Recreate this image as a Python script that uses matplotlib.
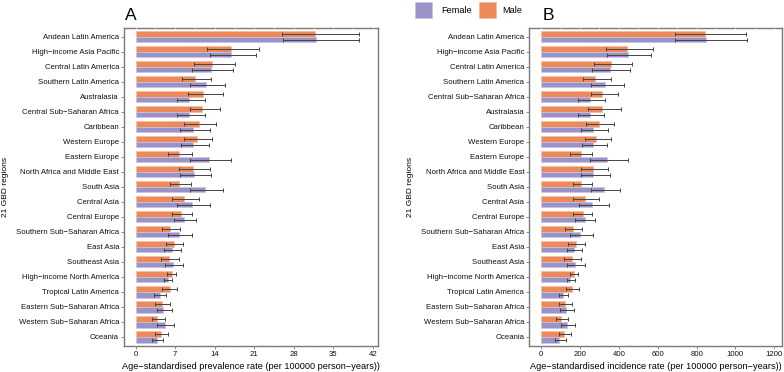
import matplotlib
matplotlib.use('Agg')
import matplotlib.pyplot as plt
from matplotlib.patches import Rectangle
import numpy as np

plt.rcParams['font.family'] = ['Liberation Sans', 'DejaVu Sans']

# panel A: prevalence
regions_a = ['Andean Latin America', 'High\u2212income Asia Pacific', 'Central Latin America',
             'Southern Latin America', 'Australasia', 'Central Sub\u2212Saharan Africa',
             'Caribbean', 'Western Europe', 'Eastern Europe', 'North Africa and Middle East',
             'South Asia', 'Central Asia', 'Central Europe', 'Southern Sub\u2212Saharan Africa',
             'East Asia', 'Southeast Asia', 'High\u2212income North America',
             'Tropical Latin America', 'Eastern Sub\u2212Saharan Africa',
             'Western Sub\u2212Saharan Africa', 'Oceania']
male_a = [31.8, 16.8, 13.6, 10.5, 11.9, 11.8, 11.2, 10.8, 7.7, 10.2, 7.7,
          8.5, 8.0, 6.1, 6.7, 5.9, 6.4, 6.0, 4.6, 3.8, 4.5]
male_a_lo = [26.0, 12.6, 10.3, 8.2, 9.2, 9.6, 8.6, 8.5, 5.7, 7.7, 6.1,
             6.4, 6.4, 4.6, 5.3, 4.5, 5.6, 4.7, 3.5, 2.9, 3.5]
male_a_hi = [39.5, 21.9, 17.5, 13.4, 15.5, 14.9, 14.2, 13.5, 10.0, 13.1, 9.8,
             11.2, 10.0, 7.9, 8.4, 7.7, 7.1, 7.3, 6.0, 5.2, 5.7]
female_a = [31.9, 16.8, 13.3, 12.5, 9.5, 9.5, 10.1, 10.2, 12.9, 10.3, 12.2,
            9.9, 8.5, 7.6, 6.4, 6.6, 5.7, 4.3, 4.8, 5.1, 3.7]
female_a_lo = [26.1, 13.1, 9.9, 9.7, 7.4, 7.3, 7.8, 8.1, 9.7, 7.9, 9.6,
               7.4, 6.7, 5.7, 5.0, 5.1, 5.0, 3.2, 3.7, 3.8, 2.8]
female_a_hi = [39.6, 21.3, 17.2, 15.9, 12.2, 12.3, 13.1, 12.9, 16.8, 13.3, 15.4,
               13.1, 10.6, 10.0, 8.0, 8.4, 6.4, 5.3, 6.4, 6.7, 4.8]

# panel B: incidence
regions_b = ['Andean Latin America', 'High\u2212income Asia Pacific', 'Central Latin America',
             'Southern Latin America', 'Central Sub\u2212Saharan Africa', 'Australasia',
             'Caribbean', 'Western Europe', 'Eastern Europe', 'North Africa and Middle East',
             'South Asia', 'Central Asia', 'Central Europe', 'Southern Sub\u2212Saharan Africa',
             'East Asia', 'Southeast Asia', 'High\u2212income North America',
             'Tropical Latin America', 'Eastern Sub\u2212Saharan Africa',
             'Western Sub\u2212Saharan Africa', 'Oceania']
male_b = [843, 443, 361, 278, 314, 313, 296, 283, 204, 269, 207,
          225, 214, 164, 179, 156, 169, 160, 124, 102, 117]
male_b_lo = [690, 331, 273, 213, 254, 239, 230, 224, 149, 206, 162,
             165, 165, 120, 139, 119, 147, 125, 94, 74, 92]
male_b_hi = [1055, 577, 465, 358, 396, 410, 376, 361, 264, 346, 264,
             296, 264, 211, 225, 204, 189, 196, 160, 136, 151]
female_b = [846, 445, 352, 328, 251, 251, 266, 268, 340, 269, 324,
            261, 225, 199, 170, 174, 149, 112, 129, 134, 91]
female_b_lo = [690, 341, 259, 254, 191, 191, 206, 209, 252, 206, 257,
               194, 175, 146, 134, 134, 132, 89, 97, 100, 72]
female_b_hi = [1058, 563, 455, 424, 326, 323, 346, 341, 445, 352, 408,
               348, 279, 266, 211, 224, 172, 137, 170, 175, 127]

c_female = '#9a93c8'
c_male = '#ee8a5a'
e_female = '#c9c5e4'
e_male = '#f5bfa3'


def panel(ax, regions, m, mlo, mhi, f, flo, fhi, xlim, ticks, xlabel, letter, letter_x):
    n = len(regions)
    y = np.arange(n, 0, -1)
    h = 0.37
    ax.barh(y + h / 2, m, height=h, color=c_male, edgecolor=e_male, lw=0.5, zorder=3)
    ax.barh(y - h / 2, f, height=h, color=c_female, edgecolor=e_female, lw=0.5, zorder=3)
    m, f = np.array(m), np.array(f)
    ax.errorbar(m, y + h / 2, xerr=[m - np.array(mlo), np.array(mhi) - m], fmt='none',
                ecolor='#444444', elinewidth=0.7, capsize=1.6, capthick=0.7, zorder=4)
    ax.errorbar(f, y - h / 2, xerr=[f - np.array(flo), np.array(fhi) - f], fmt='none',
                ecolor='#444444', elinewidth=0.7, capsize=1.6, capthick=0.7, zorder=4)
    ax.set_xlim(*xlim)
    ax.set_ylim(0.4, n + 0.6)
    ax.set_xticks(ticks)
    ax.set_xticklabels([str(t) for t in ticks])
    ax.set_yticks(y)
    ax.set_yticklabels(regions)
    # white grid lines only show where they cut the gray border
    grid = list(ticks) + [(a + b) / 2 for a, b in zip(ticks[:-1], ticks[1:])]
    ax.vlines(grid, 0.4, n + 0.6, color='white', lw=0.8, zorder=2.7)
    for s in ax.spines.values():
        s.set_color('#7a7a7a')
        s.set_linewidth(1.0)
    ax.tick_params(axis='both', length=2, width=0.6, color='#7a7a7a',
                   labelsize=5.6, pad=1.5, labelcolor='#111111')
    ax.set_xlabel(xlabel, fontsize=6.6, labelpad=3)
    ax.set_ylabel('21 GBD regions', fontsize=6.0, labelpad=5)
    ax.text(letter_x, 1.025, letter, transform=ax.transAxes, fontsize=12.5,
            va='baseline', ha='left')


fig = plt.figure(figsize=(7.84, 3.72), dpi=100)
ax1 = fig.add_axes([0.158, 0.070, 0.324, 0.855])
ax2 = fig.add_axes([0.675, 0.070, 0.3227, 0.855])

panel(ax1, regions_a, male_a, male_a_lo, male_a_hi, female_a, female_a_lo, female_a_hi,
      (-2.1, 42.9), [0, 7, 14, 21, 28, 35, 42],
      'Age\u2212standardised prevalence rate (per 100000 person\u2212years))', 'A', 0.006)
panel(ax2, regions_b, male_b, male_b_lo, male_b_hi, female_b, female_b_lo, female_b_hi,
      (-62, 1241), [0, 200, 400, 600, 800, 1000, 1200],
      'Age\u2212standardised incidence rate (per 100000 person\u2212years))', 'B', 0.055)

# legend drawn by hand, in pixels of the 784x372 figure
W, H = 784.0, 372.0
legend = [('Female', c_female, e_female, 415, 441), ('Male', c_male, e_male, 479, 502)]
for label, fc, ec, px, tx in legend:
    fig.patches.append(Rectangle((px / W, 1 - 18 / H), 17 / W, 16 / H, transform=fig.transFigure,
                                 facecolor=fc, edgecolor=ec, lw=0.6))
    fig.text(tx / W, 1 - 10.5 / H, label, fontsize=6.6, va='center', ha='left')

fig.savefig('out.png', dpi=100)
